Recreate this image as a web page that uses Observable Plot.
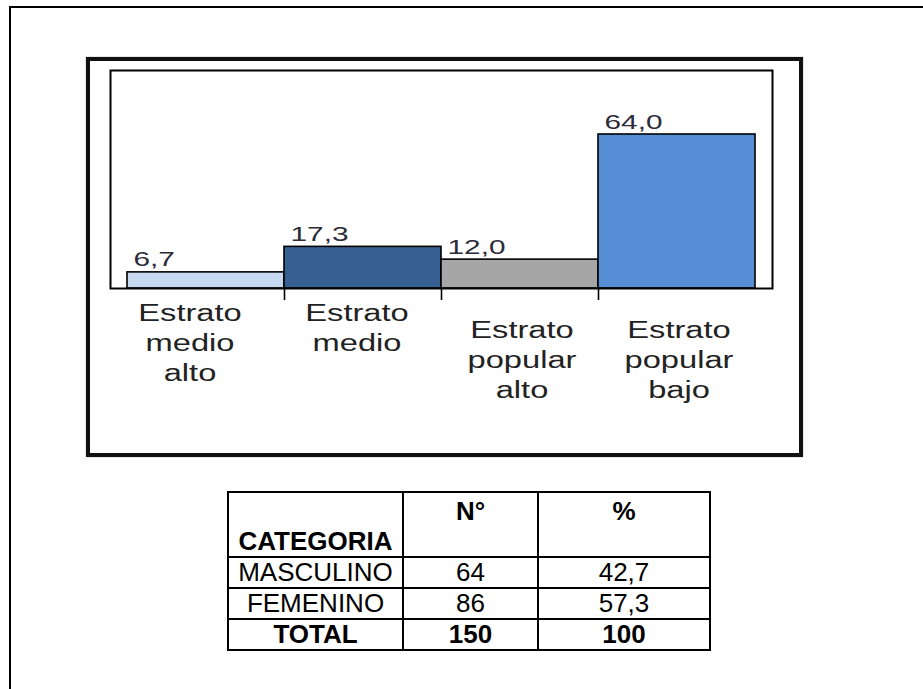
<!DOCTYPE html>
<html>
<head>
<meta charset="utf-8">
<script src="https://cdn.jsdelivr.net/npm/d3@7"></script>
<script src="https://cdn.jsdelivr.net/npm/@observablehq/plot@0.6"></script>
<style>
  html, body { margin: 0; padding: 0; background: #fff; }
  #page { position: relative; width: 923px; height: 689px; overflow: hidden; background: #fff;
          font-family: "Liberation Sans", Arial, sans-serif; }
  #outer { position: absolute; left: 9px; top: 6px; width: 1000px; height: 1000px;
           border-left: 2px solid #000; border-top: 2px solid #000; }
  #box { position: absolute; left: 86px; top: 57px; width: 717px; height: 400px; box-sizing: border-box;
         border: 4px solid #111; box-shadow: 0 0 1px #777; }
  #chart { position: absolute; left: 87px; top: 58px; }
  #tbl { position: absolute; left: 227px; top: 491px; border-collapse: collapse; table-layout: fixed;
         font-family: "Liberation Sans", Arial, sans-serif; font-size: 26px; color: #000; }
  #tbl td { border: 2px solid #000; padding: 0; text-align: center; line-height: 29px; }
  #tbl tr.data td { height: 29px; vertical-align: middle; }
  #tbl tr.head td { height: 59px; font-weight: bold; }
  #tbl tr.total td { font-weight: bold; height: 29px; }
</style>
</head>
<body>
<div id="page">
  <div id="outer"></div>
  <div id="box"></div>
  <div id="chart"></div>
  <table id="tbl"></table>
</div>
<script>
// ---- chart data ----
const categories = ["Estrato\nmedio\nalto", "Estrato\nmedio", "Estrato\npopular\nalto", "Estrato\npopular\nbajo"];
const values = [6.7, 17.3, 12.0, 64.0];
const valueLabels = ["6,7", "17,3", "12,0", "64,0"];
const barColors = ["#c6d9f0", "#376092", "#a6a6a6", "#558ed5"];

// ---- table data ----
const tableHeader = ["CATEGORIA", "N°", "%"];
const tableCategories = ["MASCULINO", "FEMENINO"];
const tableCounts = ["64", "86"];
const tablePercents = ["42,7", "57,3"];
const tableTotal = ["TOTAL", "150", "100"];

// layout constants
const catDx = [-16, -6, 2, 2];
const catDy = [11, 11, 28, 28];
const band = 157;

const data = categories.map((c, i) => ({cat: c, value: values[i], label: valueLabels[i]}));

const plot = Plot.plot({
  width: 715,
  height: 398,
  marginLeft: 23, marginRight: 30, marginTop: 12, marginBottom: 168,
  style: {background: "transparent", fontFamily: "'Liberation Sans', Arial, sans-serif", overflow: "visible"},
  x: {type: "band", domain: categories, range: [40, 668], padding: 0, axis: null},
  y: {domain: [0, 90.6], axis: null},
  color: {type: "ordinal", domain: categories, range: barColors},
  marks: [
    Plot.barY(data, {x: "cat", y: "value", fill: "cat", stroke: "#000", strokeWidth: 1.6}),
    Plot.ruleX(categories.slice(1), {x: d => d, dx: -band / 2, y1: 0, y2: -5, stroke: "#000", strokeWidth: 1.6}),
    Plot.frame({stroke: "#000", strokeWidth: 2}),
    Plot.text(data, {x: "cat", y: "value", text: "label", textAnchor: "start", lineAnchor: "bottom",
      dx: -band / 2 + 6, dy: -6, fontSize: 21, fill: "#2b2b3a"}),
    ...categories.map((c, i) => Plot.text([c], {x: d => d, text: d => d, frameAnchor: "bottom",
      lineAnchor: "top", lineHeight: 1.3, dx: catDx[i], dy: catDy[i], fontSize: 23, fill: "#222"}))
  ]
});

// stretch text horizontally like the reference
plot.querySelectorAll("text").forEach(t => {
  const tr = t.getAttribute("transform") || "";
  t.setAttribute("transform", tr + " scale(1.42,1)");
});
document.getElementById("chart").appendChild(plot);

// ---- table ----
const tbl = d3.select("#tbl");
const cg = tbl.append("colgroup");
[175, 135, 172].forEach(w => cg.append("col").style("width", w + "px"));
const hr = tbl.append("tr").attr("class", "head");
hr.append("td").style("vertical-align", "bottom").text(tableHeader[0]);
hr.append("td").style("vertical-align", "top").style("padding-top", "4px").text(tableHeader[1]);
hr.append("td").style("vertical-align", "top").style("padding-top", "4px").text(tableHeader[2]);
tableCategories.forEach((c, i) => {
  const r = tbl.append("tr").attr("class", "data");
  r.append("td").text(c);
  r.append("td").text(tableCounts[i]);
  r.append("td").text(tablePercents[i]);
});
const tr = tbl.append("tr").attr("class", "total");
tableTotal.forEach(v => tr.append("td").text(v));
</script>
</body>
</html>
